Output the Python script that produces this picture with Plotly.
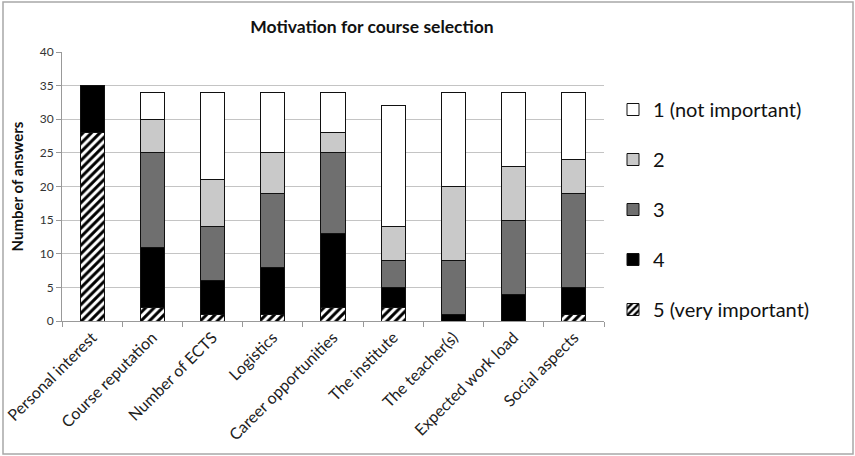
import plotly.graph_objects as go

# Survey: how important each factor was when choosing a course
categories = [
    "Personal interest", "Course reputation", "Number of ECTS", "Logistics",
    "Career opportunities", "The institute", "The teacher(s)",
    "Expected work load", "Social aspects",
]
very_important_5 = [28, 2, 1, 1, 2, 2, 0, 0, 1]
score_4 = [7, 9, 5, 7, 11, 3, 1, 4, 4]
score_3 = [0, 14, 8, 11, 12, 4, 8, 11, 14]
score_2 = [0, 5, 7, 6, 3, 5, 11, 8, 5]
not_important_1 = [0, 4, 13, 9, 6, 18, 14, 11, 10]

# (legend name, values, fill, hatch, legend rank) — stacked bottom to top
series = [
    ("5 (very important)", very_important_5, "white", "/", 5),
    ("4", score_4, "black", "", 4),
    ("3", score_3, "#6f6f6f", "", 3),
    ("2", score_2, "#c9c9c9", "", 2),
    ("1 (not important)", not_important_1, "white", "", 1),
]

FONT = "Lato, 'Open Sans', sans-serif"

fig = go.Figure()
for name, vals, color, shape, rank in series:
    marker = dict(color=color, line=dict(color="#111111", width=1))
    if shape:
        marker["pattern"] = dict(shape=shape, fgcolor="black", bgcolor="white",
                                 size=6, solidity=0.5, fillmode="replace")
    fig.add_trace(go.Bar(
        x=categories,
        y=[v if v else None for v in vals],
        name=name,
        marker=marker,
        legendgroup=f"g{rank}",
        legendrank=rank,
    ))

# Plot area: x 62..604 px, y 52..321 px
L, R, T, B = 62, 855 - 604, 52, 456 - 321
pw, ph = 855 - L - R, 456 - T - B

def px_x(p):
    return (p - L) / pw

def px_y(p):
    return (456 - B - p) / ph

fig.update_layout(
    width=855, height=456,
    margin=dict(l=L, r=R, t=T, b=B, autoexpand=False),
    paper_bgcolor="white", plot_bgcolor="white",
    barmode="stack", bargap=0.6,
    font=dict(family=FONT, color="#222222"),
    title=dict(text="<b>Motivation for course selection</b>",
               x=372 / 855, xref="container", xanchor="center",
               y=1 - 27 / 456, yref="container", yanchor="middle",
               font=dict(size=17.5, color="#111111")),
    legend=dict(
        traceorder="grouped", tracegroupgap=21,
        x=px_x(613), xanchor="left", y=px_y(90), yanchor="top",
        font=dict(size=20, color="#111111"), bgcolor="rgba(0,0,0,0)",
        itemclick=False,
    ),
    showlegend=True,
    shapes=[dict(type="rect", xref="paper", yref="paper",
                 x0=px_x(3), x1=px_x(853), y0=px_y(454), y1=px_y(2),
                 line=dict(color="#a8a8a8", width=1.5), layer="below")],
)

fig.update_xaxes(
    tickangle=-45, tickson="boundaries", ticks="outside", ticklen=5,
    tickcolor="#999999", showline=True, linecolor="#999999", linewidth=1,
    tickfont=dict(size=16, color="#222222"), showgrid=False, automargin=False,
)
fig.update_yaxes(
    range=[0, 40], dtick=5, ticks="outside", ticklen=5, tickcolor="#999999",
    showline=True, linecolor="#999999", linewidth=1,
    showgrid=True, gridcolor="#c4c4c4", gridwidth=1, zeroline=False,
    tickfont=dict(size=12, color="#333333"), automargin=False,
    title=dict(text="<b>Number of answers</b>", font=dict(size=15, color="#111111"),
               standoff=12),
)

fig.write_html("out.html")
